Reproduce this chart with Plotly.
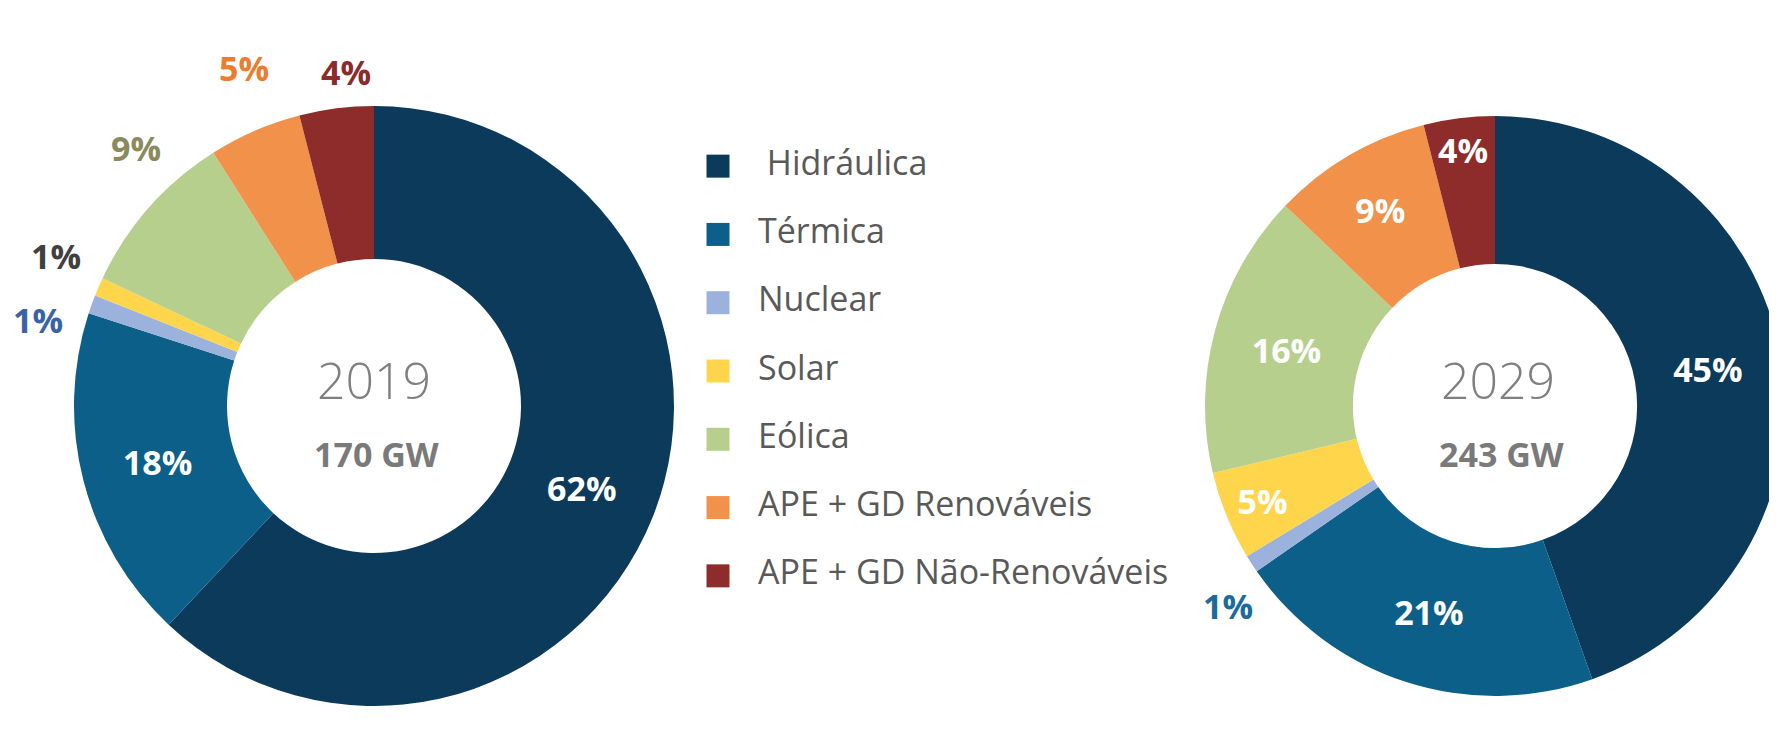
import plotly.graph_objects as go

categories = ["Hidráulica", "Térmica", "Nuclear", "Solar", "Eólica",
              "APE + GD Renováveis", "APE + GD Não-Renováveis"]
values_2019 = [62, 18, 1, 1, 9, 5, 4]
values_2029 = [45, 21, 1, 5, 16, 9, 4]
year_labels = ["2019", "2029"]
capacity_labels = ["170 GW", "243 GW"]

colors = ["#0c3a5a", "#0b5f89", "#9ab2dc", "#ffd54c", "#b7cf8d", "#f2924a", "#8e2c2b"]

# which slices carry their own label inside; the rest get a label outside the ring
pos_2019 = ["inside", "inside", "none", "none", "none", "none", "none"]
pos_2029 = ["inside", "inside", "none", "inside", "inside", "inside", "inside"]
out_colors_2019 = [None, None, "#3a62a6", "#404040", "#8a8a5c", "#ec7d2e", "#8b2b2b"]
out_colors_2029 = [None, None, "#1b6a9c", None, None, None, None]
# outside label placement (pixels from top-left of the figure)
out_pos_2019 = [None, None, (30, 312), (48, 248), (128, 140), (236, 60), (338, 64)]
out_pos_2029 = [None, None, (1220, 598), None, None, None, None]

FONT = "Open Sans, Noto Sans, DejaVu Sans, sans-serif"
W, H = 1777, 734

fig = go.Figure()

def add_donut(vals, dom_x, dom_y, positions):
    fig.add_trace(go.Pie(
        labels=categories, values=vals, sort=False, direction="clockwise",
        rotation=0, hole=0.49, domain=dict(x=dom_x, y=dom_y),
        marker=dict(colors=colors, line=dict(width=0)),
        texttemplate="%{value}%", textposition=positions,
        insidetextorientation="horizontal",
        insidetextfont=dict(family=FONT, size=34, color="white", weight="bold"),
        showlegend=False, hoverinfo="label+value",
    ))

add_donut(values_2019, [66 / W, 666 / W], [1 - 698 / H, 1 - 98 / H], pos_2019)
add_donut(values_2029, [1197 / W, 1.0], [1 - 698 / H, 1 - 98 / H], pos_2029)

for vals, cols, pos in [(values_2019, out_colors_2019, out_pos_2019),
                        (values_2029, out_colors_2029, out_pos_2029)]:
    for v, c, p in zip(vals, cols, pos):
        if p is None:
            continue
        fig.add_annotation(x=p[0] / W, y=1 - p[1] / H, xref="paper", yref="paper",
                           xanchor="center", yanchor="middle",
                           text=f"{v}%", showarrow=False,
                           font=dict(family=FONT, size=34, color=c, weight="bold"))

# legend drawn on a hidden category axis
fig.add_trace(go.Scatter(
    x=[0] * len(categories), y=categories, mode="markers",
    marker=dict(symbol="square", size=23, color=colors, line=dict(width=0)),
    showlegend=False, hoverinfo="skip", xaxis="x", yaxis="y", cliponaxis=False,
))
legend_text = ["\u00a0" + categories[0]] + categories[1:]
fig.add_trace(go.Scatter(
    x=[0.8] * len(categories), y=categories, mode="text", text=legend_text,
    textposition="middle right",
    textfont=dict(family=FONT, size=34, color="#595959"),
    showlegend=False, hoverinfo="skip", xaxis="x", yaxis="y", cliponaxis=False,
))

fig.update_layout(
    width=W, height=H, margin=dict(l=0, r=0, t=0, b=0),
    paper_bgcolor="white", plot_bgcolor="rgba(0,0,0,0)",
    uniformtext=dict(minsize=34, mode="show"),
    xaxis=dict(domain=[660 / W, 1260 / W], range=[-1, 11], visible=False, fixedrange=True),
    yaxis=dict(domain=[1 - 602 / H, 1 - 124 / H], type="category",
               range=[6.5, -0.5], visible=False, fixedrange=True),
)

cx = [366 / W, 1490 / W]
for i in range(2):
    fig.add_annotation(x=cx[i], y=1 - 372 / H, xref="paper", yref="paper",
                       xanchor="center", yanchor="middle",
                       text=year_labels[i], showarrow=False,
                       font=dict(family=FONT, size=50, color="#7f7f7f", weight=300))
    fig.add_annotation(x=cx[i] + 3 / W, y=1 - 446 / H, xref="paper", yref="paper",
                       xanchor="center", yanchor="middle",
                       text=capacity_labels[i], showarrow=False,
                       font=dict(family=FONT, size=34, color="#7a7a7a", weight="bold"))

fig.write_html("out.html")
